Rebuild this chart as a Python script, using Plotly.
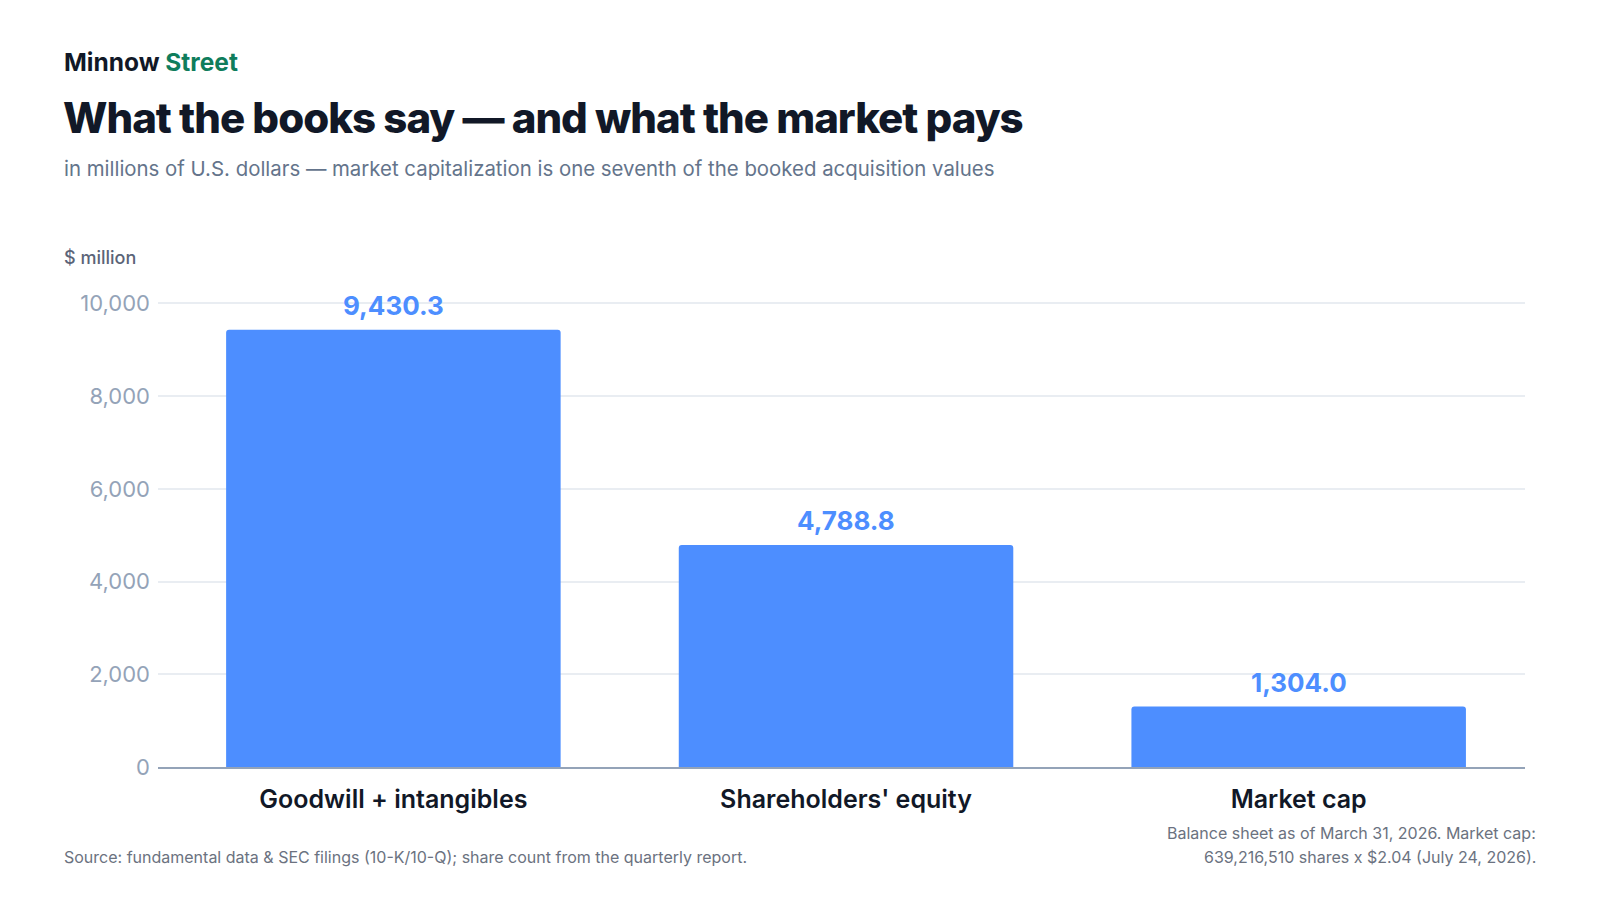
import plotly.graph_objects as go

# 数据
categories = ["Goodwill + intangibles", "Shareholders' equity", "Market cap"]
values = [9430.3, 4788.8, 1304.0]
y_ticks = [0, 2000, 4000, 6000, 8000, 10000]
y_ticktext = ["0", "2,000", "4,000", "6,000", "8,000", "10,000"]

W, H = 1600, 900
L, R, T, B = 150, 83, 294, 141   # 绘图区边距(px)
BAR_COLOR = "#4d8eff"
FONT = "Inter"


def px(x, y):
    """像素坐标 -> paper 坐标"""
    return (x - L) / (W - L - R), 1 - (y - T) / (H - T - B)


fig = go.Figure()
fig.add_trace(
    go.Bar(
        x=categories, y=values,
        marker=dict(color=BAR_COLOR, line=dict(width=0)),
        hoverinfo="skip",
    )
)

fig.update_xaxes(
    range=[-0.52, 2.5],
    showgrid=False, showline=True, linecolor="#94a3b8", linewidth=2,
    tickfont=dict(family=FONT, size=25, color="#111827", weight=600),
    ticks="", ticklabelstandoff=9, fixedrange=True,
)
fig.update_yaxes(
    range=[0, 10030], tickvals=y_ticks, ticktext=y_ticktext,
    showgrid=True, gridcolor="#e9edf2", gridwidth=1.5,
    zeroline=False, showline=False,
    tickfont=dict(family=FONT, size=22, color="#94a3b8"),
    ticklabelstandoff=7, fixedrange=True,
)

annos = []

# 柱顶数值标注
for cat, val in zip(categories, values):
    annos.append(dict(
        x=cat, y=val, xref="x", yref="y", text=f"{val:,.1f}",
        showarrow=False, xanchor="center", yanchor="middle", yshift=24,
        font=dict(family=FONT, size=26, color=BAR_COLOR, weight=700),
    ))


def note(x, y, text, size, color, weight=400, xanchor="left", align="left"):
    ax, ay = px(x, y)
    annos.append(dict(
        xref="paper", yref="paper", x=ax, y=ay, text=text, showarrow=False,
        xanchor=xanchor, yanchor="middle", align=align,
        font=dict(family=FONT, size=size, color=color, weight=weight),
    ))


note(54, 54, "Minnow <span style='color:#0f7d5c'>Street</span>", 24.5, "#111827", 700)
note(53, 110, "<span style='letter-spacing:-1px'>What the books say — and what the market pays</span>",
     42, "#111827", 800)
note(54, 160, "in millions of U.S. dollars — market capitalization is one seventh of the booked acquisition values",
     20.4, "#64748b")
note(54, 249, "$ million", 18, "#5b6478", 500)
note(54, 849, "Source: fundamental data &amp; SEC filings (10-K/10-Q); share count from the quarterly report.",
     16, "#6b7280")
note(1530, 825, "Balance sheet as of March 31, 2026. Market cap:", 16, "#6b7280", xanchor="right")
note(1530, 849, "639,216,510 shares x $2.04 (July 24, 2026).", 16, "#6b7280", xanchor="right")

fig.update_layout(
    width=W, height=H,
    margin=dict(l=L, r=R, t=T, b=B),
    paper_bgcolor="white", plot_bgcolor="white",
    bargap=0.261, barcornerradius=3, showlegend=False,
    annotations=annos,
    font=dict(family=FONT),
)

fig.write_html("out.html")
